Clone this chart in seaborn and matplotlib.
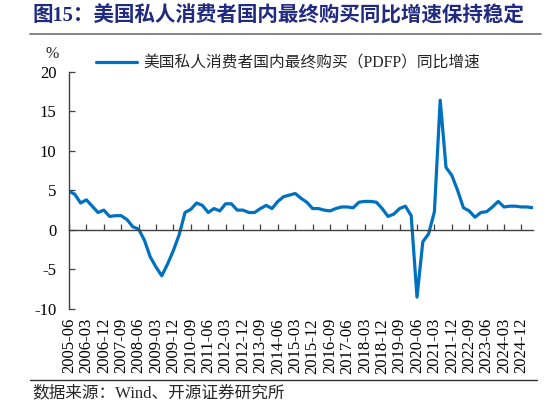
import matplotlib
matplotlib.use("Agg")
import matplotlib.pyplot as plt
from matplotlib.lines import Line2D
import seaborn as sns
import pandas as pd

# 美国私人消费者国内最终购买（PDFP）同比增速，季度，%
quarters = [p.strftime("%Y-%m") for p in pd.period_range("2005Q2", "2025Q2", freq="Q")]
pdfp_yoy = [
    4.9, 4.5, 3.4, 3.8, 3.0, 2.2, 2.5, 1.7, 1.8, 1.8,
    1.3, 0.4, 0.1, -1.3, -3.4, -4.7, -5.8, -4.3, -2.6, -0.6,
    2.2, 2.6, 3.4, 3.1, 2.2, 2.7, 2.4, 3.3, 3.3, 2.5,
    2.5, 2.2, 2.2, 2.7, 3.1, 2.7, 3.6, 4.2, 4.4, 4.6,
    4.0, 3.5, 2.7, 2.7, 2.5, 2.4, 2.7, 2.9, 2.9, 2.8,
    3.5, 3.6, 3.6, 3.5, 2.7, 1.7, 2.0, 2.7, 3.0, 1.8,
    -8.5, -1.5, -0.5, 2.3, 16.4, 7.9, 6.9, 5.0, 2.8, 2.4,
    1.6, 2.2, 2.3, 2.9, 3.6, 2.9, 3.0, 3.0, 2.9, 2.9,
    2.8,
]
series_name = "美国私人消费者国内最终购买（PDFP）同比增速"
yticks = [-10, -5, 0, 5, 10, 15, 20]

df = pd.DataFrame({"idx": range(len(quarters)), "季度": quarters, "同比": pdfp_yoy})

sns.set_theme(style="white")
plt.rcParams["font.family"] = ["Liberation Serif", "Noto Sans CJK SC"]
plt.rcParams["axes.unicode_minus"] = False

fig = plt.figure(figsize=(5.46, 4.08), dpi=100)
ax = fig.add_axes([69 / 546, 1 - 309 / 408, (533 - 69) / 546, (309 - 71.7) / 408])

sns.lineplot(data=df, x="idx", y="同比", color="#0070C0", linewidth=2.3, ax=ax, label=series_name)

ax.set_xlim(0, len(quarters) - 1)
ax.set_ylim(-10, 20)
ax.set_yticks(yticks)
ax.set_xticks(df["idx"][::3])
ax.set_xticklabels(df["季度"][::3])
ax.set_xlabel("")
ax.set_ylabel("")

# 横轴放在0处，刻度朝上；标签仍在图底部
for s in ["top", "right"]:
    ax.spines[s].set_visible(False)
ax.spines["bottom"].set_position(("data", 0))
ax.spines["bottom"].set_color("#404040")
ax.spines["left"].set_color("#404040")
ax.spines["bottom"].set_linewidth(1.0)
ax.spines["left"].set_linewidth(1.0)
ax.tick_params(axis="x", direction="in", length=4, width=0.9, color="#404040",
               pad=63.5, labelsize=12, labelcolor="black", labelrotation=90, bottom=True)
ax.tick_params(axis="y", direction="in", length=4, width=0.9, color="#404040",
               pad=9, labelsize=12, labelcolor="black", left=True)
ax.grid(False)

ax.legend(loc="center left", bbox_to_anchor=(96 / 546, 1 - 63.3 / 408),
          bbox_transform=fig.transFigure, frameon=False, fontsize=11.3,
          handlelength=2.6, handletextpad=0.4, borderpad=0, borderaxespad=0)

fig.text(51.7 / 546, 1 - 54 / 408, "%", fontsize=11.5, ha="center", va="center")

fig.text(33 / 546, 1 - 16 / 408, "图15：美国私人消费者国内最终购买同比增速保持稳定",
         fontsize=14.8, fontweight="bold", color="#1F2A80", ha="left", va="center")
fig.add_artist(Line2D([30 / 546, 541 / 546], [1 - 33.5 / 408] * 2,
                      transform=fig.transFigure, color="#707070", linewidth=1.2))
fig.add_artist(Line2D([30 / 546, 537 / 546], [1 - 379.7 / 408] * 2,
                      transform=fig.transFigure, color="#303030", linewidth=1.0))
fig.text(32 / 546, 1 - 393 / 408, "数据来源：Wind、开源证券研究所",
         fontsize=12, ha="left", va="center")

fig.savefig("out.png", dpi=100)
